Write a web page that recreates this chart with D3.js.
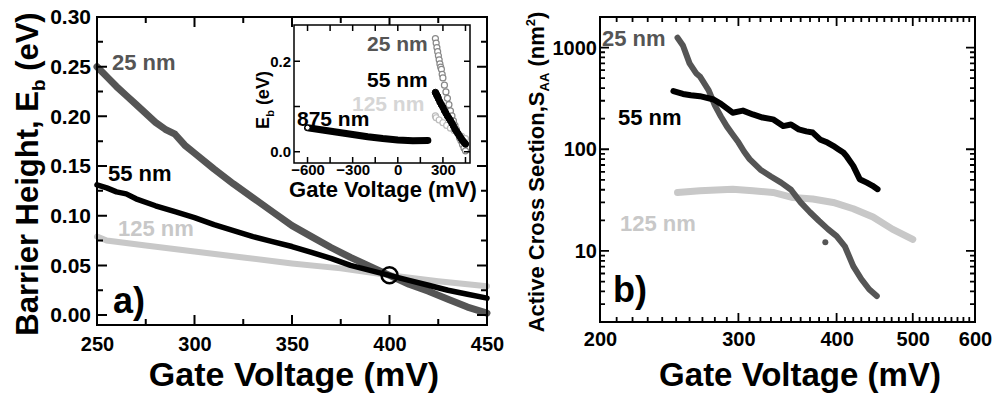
<!DOCTYPE html>
<html><head><meta charset="utf-8">
<script src="https://cdn.jsdelivr.net/npm/d3@7"></script>
<style>body{margin:0;background:#fff}svg{display:block}text{font-family:"Liberation Sans",Arial,sans-serif;font-weight:bold}</style>
</head><body><svg id="c" width="997" height="394"></svg>
<script>
// ---------- DATA ----------
// Panel a: barrier height vs gate voltage
const aVolt25 = [250,255,260,265,270,275,280,285,290,295,300,310,320,330,340,350,360,370,380,390,400,410,420,430,440,450];
const aEb25   = [0.250,0.240,0.230,0.221,0.212,0.203,0.194,0.187,0.182,0.171,0.163,0.147,0.132,0.118,0.104,0.090,0.079,0.068,0.058,0.049,0.040,0.031,0.024,0.016,0.008,0.002];
const aVolt55 = [250,255,260,265,270,280,290,300,310,320,330,340,350,360,370,380,390,400,410,420,430,440,450];
const aEb55   = [0.131,0.128,0.124,0.122,0.117,0.110,0.104,0.098,0.091,0.085,0.079,0.074,0.069,0.063,0.057,0.050,0.045,0.040,0.035,0.030,0.025,0.021,0.017];
const aVolt125 = [250,255,275,300,325,350,375,400,425,450];
const aEb125   = [0.079,0.075,0.070,0.064,0.058,0.052,0.047,0.040,0.034,0.029];
const crossPoint = [400, 0.040];
// Inset: 875 nm curve
const inVolt875 = [-600,-500,-400,-300,-200,-100,0,100,200];
const inEb875   = [0.053,0.048,0.043,0.038,0.033,0.029,0.026,0.024,0.025];
// Panel b: active cross section vs gate voltage
const bVolt25 = [251,255,260,265,268,275,280,285,290,295,300,305,310,320,330,340,350,360,370,380,390,400,410,420,430,440,450];
const bS25    = [1250,1050,700,560,520,380,270,210,168,140,117,95,80,63,54,47,40,30,24,19.7,16.4,14,11,7.1,5.3,4.2,3.6];
const bOutlier25 = [[387,12.2]];
const bVolt55 = [248,255,261,268,279,285,295,304,313,322,332,342,350,358,366,373,381,388,396,402,408,412,420,428,437,444,451];
const bS55    = [373,350,340,333,309,280,229,240,220,205,197,169,175,157,150,146,125,118,108,100,93,85,68.6,50.8,47,44,40.5];
const bVolt125 = [251,268,295,313,332,352,373,396,420,445,471,500];
const bS125    = [37.6,39,40.5,39,37.6,33.5,32.4,30,26,21.6,16.4,13];
// Tick values
const aXMajor = [250,300,350,400,450], aXMinor = [275,325,375,425];
const aYMajor = [0,0.05,0.10,0.15,0.20,0.25,0.30], aYMinor = [0.025,0.075,0.125,0.175,0.225,0.275];
const inXMajor = [-600,-300,0,300], inXMinor = [-450,-150,150,450];
const inYMajor = [0,0.2], inYMinor = [0.1];
const bXMajor = [200,300,400,500,600];
const bXMinor = d3.range(210,600,10).filter(v=>v%100!==0);
const bYMajor = [10,100,1000];
const bYMinor = [3,4,5,6,7,8,9,20,30,40,50,60,70,80,90,200,300,400,500,600,700,800,900];

const C25 = "#555555", C55 = "#000000", C125 = "#c8c8c8";

const svg = d3.select("#c");

function zip(xs, ys){ return xs.map((x,i)=>[x,ys[i]]); }

function tickPath(x, y, o){
  const l=x.range()[0], r=x.range()[1], t=y.range()[1], b=y.range()[0];
  const parts = [];
  o.xMajor.forEach(v=>{ const p=x(v); parts.push(`M${p},${b}V${b-o.big}`, `M${p},${t}V${t+o.big}`); });
  o.xMinor.forEach(v=>{ const p=x(v); parts.push(`M${p},${b}V${b-o.small}`, `M${p},${t}V${t+o.small}`); });
  o.yMajor.forEach(v=>{ const p=y(v); parts.push(`M${l},${p}H${l+o.big}`, `M${r},${p}H${r-o.big}`); });
  o.yMinor.forEach(v=>{ const p=y(v); parts.push(`M${l},${p}H${l+o.small}`, `M${r},${p}H${r-o.small}`); });
  return parts.join("");
}

function axes(g, x, y, o){
  const L=x.range()[0], R=x.range()[1], T=y.range()[1], B=y.range()[0];
  const style = s => { s.select(".domain").remove(); s.selectAll("line").remove();
     s.selectAll("text").attr("font-size", o.fs).attr("font-weight","bold").attr("fill","#000")
     .attr("font-family",'"Liberation Sans",Arial,sans-serif'); };
  g.append("g").attr("transform",`translate(0,${B})`)
    .call(d3.axisBottom(x).tickValues(o.xMajor).tickSize(0).tickPadding(o.xpad).tickFormat(o.xfmt)).call(style);
  g.append("g").attr("transform",`translate(${L},0)`)
    .call(d3.axisLeft(y).tickValues(o.yMajor).tickSize(0).tickPadding(o.ypad).tickFormat(o.yfmt)).call(style);
  g.append("path").attr("class","tickmarks").attr("d", tickPath(x,y,o))
    .attr("fill","none").attr("stroke","#000").attr("stroke-width",o.tw);
  g.append("rect").attr("x",L).attr("y",T).attr("width",R-L).attr("height",B-T)
    .attr("fill","none").attr("stroke","#000").attr("stroke-width",o.fw);
}

function label(g, x, y, txt, color, fs){
  g.append("text").attr("x",x).attr("y",y).attr("fill",color).attr("font-size",fs).text(txt);
}

// ---------- PANEL A ----------
const ga = svg.append("g");
const xa = d3.scaleLinear().domain([250,450]).range([97,487]);
const ya = d3.scaleLinear().domain([-0.01,0.30]).range([325,17]);
const lineA = d3.line().x(d=>xa(d[0])).y(d=>ya(d[1]));
ga.append("path").datum(zip(aVolt125,aEb125)).attr("d",lineA).attr("fill","none").attr("stroke",C125).attr("stroke-width",6).attr("stroke-linecap","round");
ga.append("path").datum(zip(aVolt25,aEb25)).attr("d",lineA).attr("fill","none").attr("stroke",C25).attr("stroke-width",7).attr("stroke-linecap","round").attr("stroke-linejoin","round");
ga.append("path").datum(zip(aVolt55,aEb55)).attr("d",lineA).attr("fill","none").attr("stroke",C55).attr("stroke-width",5.5).attr("stroke-linecap","round").attr("stroke-linejoin","round");
ga.append("circle").attr("cx",xa(crossPoint[0])).attr("cy",ya(crossPoint[1])).attr("r",8).attr("fill","none").attr("stroke","#000").attr("stroke-width",2.5);
axes(ga, xa, ya, {xMajor:aXMajor,xMinor:aXMinor,yMajor:aYMajor,yMinor:aYMinor,big:10,small:6,tw:2,fw:2,fs:21,xpad:12,ypad:6,
  xfmt:d3.format("d"), yfmt:d3.format(".2f")});
ga.selectAll("g.tick text").filter(function(){return this.textContent.indexOf(".")<0;}).attr("font-size",20);
label(ga,112,70,"25 nm",C25,22);
label(ga,108,181,"55 nm",C55,22);
label(ga,118,236,"125 nm",C125,22);
label(ga,113,313,"a)","#000",36);
ga.append("text").attr("x",294).attr("y",386).attr("text-anchor","middle").attr("font-size",34).text("Gate Voltage (mV)");
const ta = ga.append("text").attr("transform","translate(38,174) rotate(-90)").attr("text-anchor","middle").attr("font-size",31);
ta.append("tspan").text("Barrier Height, E");
ta.append("tspan").attr("font-size",19).attr("dy",7).text("b");
ta.append("tspan").attr("dy",-7).text(" (eV)");

// ---------- INSET ----------
const gi = svg.append("g");
const xi = d3.scaleLinear().domain([-690,480]).range([294,470]);
const yi = d3.scaleLinear().domain([-0.025,0.28]).range([163,25]);
gi.append("rect").attr("x",294).attr("y",25).attr("width",176).attr("height",138).attr("fill","#fff");
const lineI = d3.line().x(d=>xi(d[0])).y(d=>yi(d[1]));
gi.append("path").datum(zip(inVolt875,inEb875)).attr("d",lineI).attr("fill","none").attr("stroke","#000").attr("stroke-width",7).attr("stroke-linecap","round");
gi.append("circle").attr("cx",xi(inVolt875[0])).attr("cy",yi(inEb875[0])).attr("r",2.5).attr("fill","#fff").attr("stroke","#000").attr("stroke-width",1);
gi.selectAll("c125").data(zip(aVolt125,aEb125)).join("circle").attr("cx",d=>xi(d[0])).attr("cy",d=>yi(d[1])).attr("r",3).attr("fill","#fff").attr("stroke","#bbb").attr("stroke-width",1.2);
gi.selectAll("c25").data(zip(aVolt25,aEb25)).join("circle").attr("cx",d=>xi(d[0])).attr("cy",d=>yi(d[1])).attr("r",3).attr("fill","#fff").attr("stroke","#888").attr("stroke-width",1.2);
gi.selectAll("c55").data(zip(aVolt55,aEb55)).join("circle").attr("cx",d=>xi(d[0])).attr("cy",d=>yi(d[1])).attr("r",3.2).attr("fill","#000").attr("stroke","#000").attr("stroke-width",1);
axes(gi, xi, yi, {xMajor:inXMajor,xMinor:inXMinor,yMajor:inYMajor,yMinor:inYMinor,big:6,small:6,tw:1.5,fw:1.5,fs:15,xpad:1,ypad:3,
  xfmt:d3.format("d"), yfmt:d3.format(".1f")});
gi.selectAll("g.tick text").attr("font-size",15);
label(gi,367,51,"25 nm",C25,21);
label(gi,367,87,"55 nm",C55,21);
label(gi,352,111,"125 nm","#d6d6d6",21);
label(gi,297,126,"875 nm",C55,21);
gi.append("text").attr("x",383).attr("y",197).attr("text-anchor","middle").attr("font-size",22).text("Gate Voltage (mV)");
const ti = gi.append("text").attr("transform","translate(269,100) rotate(-90)").attr("text-anchor","middle").attr("font-size",18);
ti.append("tspan").text("E");
ti.append("tspan").attr("font-size",11).attr("dy",5).text("b");
ti.append("tspan").attr("dy",-5).text(" (eV)");

// ---------- PANEL B ----------
const gb = svg.append("g");
const xb = d3.scaleLog().domain([200,600]).range([600,975]);
const yb = d3.scaleLog().domain([2,2000]).range([322,17]);
const lineB = d3.line().x(d=>xb(d[0])).y(d=>yb(d[1]));
gb.append("path").datum(zip(bVolt125,bS125)).attr("d",lineB).attr("fill","none").attr("stroke",C125).attr("stroke-width",7).attr("stroke-linecap","round").attr("stroke-linejoin","round");
gb.append("path").datum(zip(bVolt25,bS25)).attr("d",lineB).attr("fill","none").attr("stroke",C25).attr("stroke-width",6).attr("stroke-linecap","round").attr("stroke-linejoin","round");
gb.append("path").datum(zip(bVolt55,bS55)).attr("d",lineB).attr("fill","none").attr("stroke",C55).attr("stroke-width",6).attr("stroke-linecap","round").attr("stroke-linejoin","round");
gb.selectAll("o25").data(bOutlier25).join("circle").attr("cx",d=>xb(d[0])).attr("cy",d=>yb(d[1])).attr("r",3).attr("fill",C25);
axes(gb, xb, yb, {xMajor:bXMajor,xMinor:bXMinor,yMajor:bYMajor,yMinor:bYMinor,big:9,small:5,tw:1.8,fw:2,fs:20,xpad:10,ypad:3,
  xfmt:d3.format("d"), yfmt:d3.format("d")});
label(gb,602,46,"25 nm",C25,22);
label(gb,618,125,"55 nm",C55,22);
label(gb,620,231,"125 nm",C125,22);
label(gb,613,302,"b)","#000",36);
gb.append("text").attr("x",800).attr("y",386).attr("text-anchor","middle").attr("font-size",33).text("Gate Voltage (mV)");
const tb = gb.append("text").attr("transform","translate(544,172) rotate(-90)").attr("text-anchor","middle").attr("font-size",22);
tb.append("tspan").text("Active Cross Section,S");
tb.append("tspan").attr("font-size",13).attr("dy",5).text("AA");
tb.append("tspan").attr("dy",-5).text(" (nm");
tb.append("tspan").attr("font-size",13).attr("dy",-9).text("2");
tb.append("tspan").attr("dy",9).text(")");
</script></body></html>
